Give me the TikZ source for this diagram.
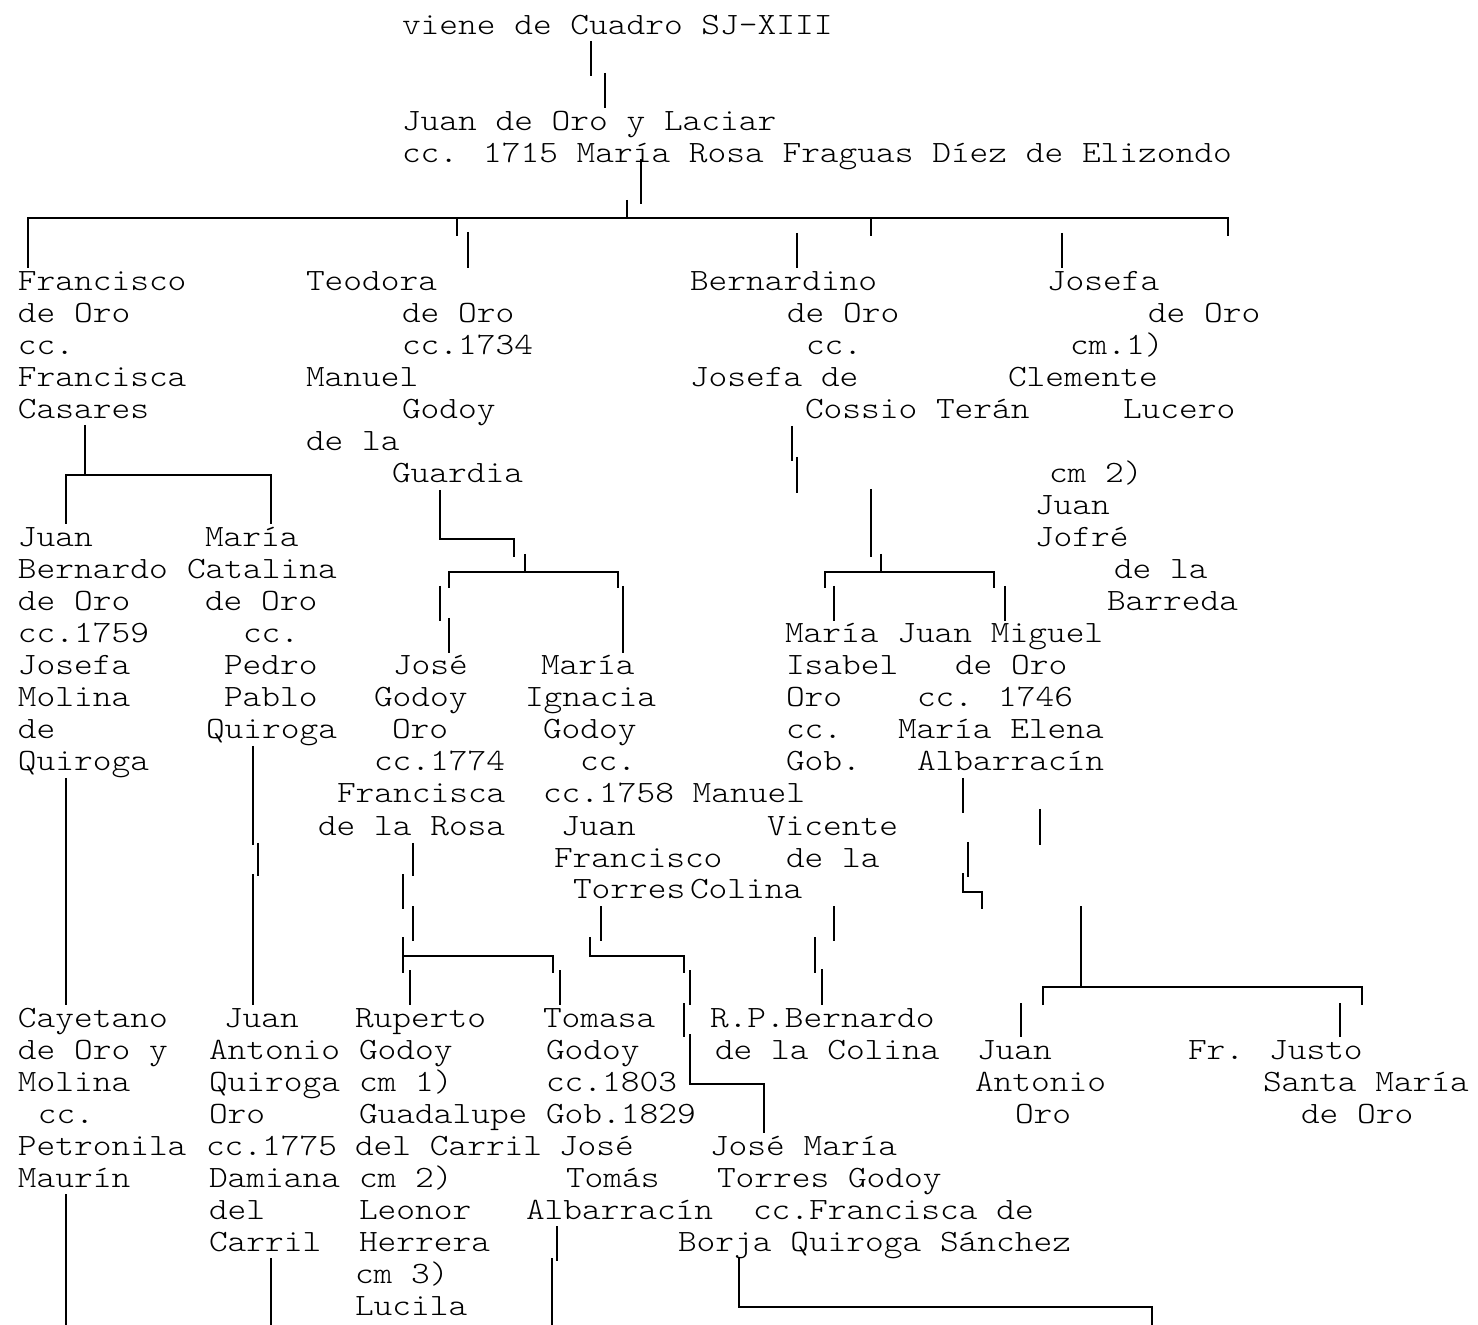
\documentclass[tikz,border=0pt]{standalone}
\usepackage{fontspec}
\newfontfamily\monof{Latin Modern Mono Light}[FakeStretch=1.15]
\tikzset{
  tx/.style={anchor=base west, inner sep=0pt, outer sep=0pt, font=\monof\fontsize{15.5pt}{16pt}\selectfont},
  ln/.style={line width=1.3pt, line cap=butt, line join=miter}
}
\newcommand\tl[4]{\node[tx] (#1) at ({#2-2},{35+32*#3}) {#4};}
\begin{document}
\begin{tikzpicture}[x=0.5pt,y=-0.5pt]
\fill[white] (0,0) rectangle (1478,1325);
\useasboundingbox (0,0) rectangle (1478,1325);
% ---------- texts ----------
\tl{a0}{404}{0}{viene de Cuadro SJ-XIII}
\tl{a1}{404}{3}{Juan de Oro y Laciar}
\tl{a2}{404}{4}{cc. 1715 María Rosa Fraguas Díez de Elizondo}
% Francisco
\tl{f1}{20}{8}{Francisco}
\tl{f2}{20}{9}{de Oro}
\tl{f3}{20}{10}{cc.}
\tl{f4}{20}{11}{Francisca}
\tl{f5}{20}{12}{Casares}
% Teodora
\tl{t1}{308}{8}{Teodora}
\tl{t2}{404}{9}{de Oro}
\tl{t3}{404}{10}{cc.1734}
\tl{t4}{308}{11}{Manuel}
\tl{t5}{404}{12}{Godoy}
\tl{t6}{308}{13}{de la}
\tl{t7}{394}{14}{Guardia}
% Bernardino
\tl{b1}{692}{8}{Bernardino}
\tl{b2}{789}{9}{de Oro}
\tl{b3}{808}{10}{cc.}
\tl{b4}{692}{11}{Josefa de}
\tl{b5}{807}{12}{Cossio Terán}
% Josefa
\tl{j1}{1049}{8}{Josefa}
\tl{j2}{1150}{9}{de Oro}
\tl{j3}{1072}{10}{cm.1)}
\tl{j4}{1010}{11}{Clemente}
\tl{j5}{1125}{12}{Lucero}
\tl{j6}{1051}{14}{cm 2)}
\tl{j7}{1037}{15}{Juan}
\tl{j8}{1037}{16}{Jofré}
\tl{j9}{1116}{17}{de la}
\tl{j10}{1109}{18}{Barreda}
% Juan Bernardo
\tl{jb1}{20}{16}{Juan}
\tl{jb2}{20}{17}{Bernardo}
\tl{jb3}{20}{18}{de Oro}
\tl{jb4}{20}{19}{cc.1759}
\tl{jb5}{20}{20}{Josefa}
\tl{jb6}{20}{21}{Molina}
\tl{jb7}{20}{22}{de}
\tl{jb8}{20}{23}{Quiroga}
% Maria Catalina
\tl{mc1}{207}{16}{María}
\tl{mc2}{189}{17}{Catalina}
\tl{mc3}{207}{18}{de Oro}
\tl{mc4}{245}{19}{cc.}
\tl{mc5}{226}{20}{Pedro}
\tl{mc6}{226}{21}{Pablo}
\tl{mc7}{208}{22}{Quiroga}
% Jose Godoy
\tl{jg1}{395}{20}{José}
\tl{jg2}{376}{21}{Godoy}
\tl{jg3}{394}{22}{Oro}
\tl{jg4}{376}{23}{cc.1774}
\tl{jg5}{339}{24}{Francisca}
\tl{jg6}{320}{25}{de la Rosa}
% Maria Ignacia
\tl{mi1}{543}{20}{María}
\tl{mi2}{527}{21}{Ignacia}
\tl{mi3}{545}{22}{Godoy}
\tl{mi4}{582}{23}{cc.}
\tl{mi5}{545}{24}{cc.1758 Manuel}
\tl{mi6}{563}{25}{Juan}
\tl{mi7}{556}{26}{Francisco}
\tl{mi8}{575}{27}{Torres}
\tl{mv1}{769}{25}{Vicente}
\tl{mv2}{788}{26}{de la}
\tl{mv3}{692}{27}{Colina}
% Maria Isabel / Juan Miguel
\tl{ms1}{787}{19}{María Juan Miguel}
\tl{ms2}{788}{20}{Isabel}
\tl{ms3}{788}{21}{Oro}
\tl{ms4}{788}{22}{cc.}
\tl{ms5}{788}{23}{Gob.}
\tl{jm1}{957}{20}{de Oro}
\tl{jm2}{919}{21}{cc. 1746}
\tl{jm3}{900}{22}{María Elena}
\tl{jm4}{919}{23}{Albarracín}
% Cayetano
\tl{c1}{20}{31}{Cayetano}
\tl{c2}{20}{32}{de Oro y}
\tl{c3}{20}{33}{Molina}
\tl{c4}{40}{34}{cc.}
\tl{c5}{20}{35}{Petronila}
\tl{c6}{20}{36}{Maurín}
% Juan Antonio Quiroga
\tl{q1}{226}{31}{Juan}
\tl{q2}{211}{32}{Antonio}
\tl{q3}{211}{33}{Quiroga}
\tl{q4}{211}{34}{Oro}
\tl{q5}{208}{35}{cc.1775}
\tl{q6}{211}{36}{Damiana}
\tl{q7}{211}{37}{del}
\tl{q8}{211}{38}{Carril}
% Ruperto
\tl{r1}{357}{31}{Ruperto}
\tl{r2}{361}{32}{Godoy}
\tl{r3}{361}{33}{cm 1)}
\tl{r4}{361}{34}{Guadalupe}
\tl{r5}{357}{35}{del Carril}
\tl{r6}{361}{36}{cm 2)}
\tl{r7}{361}{37}{Leonor}
\tl{r8}{361}{38}{Herrera}
\tl{r9}{357}{39}{cm 3)}
\tl{r10}{357}{40}{Lucila}
% Tomasa
\tl{tg1}{545}{31}{Tomasa}
\tl{tg2}{548}{32}{Godoy}
\tl{tg3}{548}{33}{cc.1803}
\tl{tg4}{548}{34}{Gob.1829}
\tl{tg5}{561}{35}{José}
\tl{tg6}{568}{36}{Tomás}
\tl{tg7}{528}{37}{Albarracín}
% R.P. Bernardo
\tl{rp1}{712}{31}{R.P.Bernardo}
\tl{rp2}{717}{32}{de la Colina}
% Jose Maria
\tl{jt1}{712}{35}{José María}
\tl{jt2}{719}{36}{Torres Godoy}
\tl{jt3}{755}{37}{cc.Francisca de}
\tl{jt4}{680}{38}{Borja Quiroga Sánchez}
% Juan Antonio Oro
\tl{ja1}{979}{32}{Juan}
\tl{ja2}{977}{33}{Antonio}
\tl{ja3}{1017}{34}{Oro}
% Fr. Justo
\tl{fj1}{1190}{32}{Fr. Justo}
\tl{fj2}{1265}{33}{Santa María}
\tl{fj3}{1303}{34}{de Oro}
% ---------- lines ----------
% top
\draw[ln] (591,41) -- (591,76);
\draw[ln] (605,73) -- (605,108);
\draw[ln] (641,159) -- (641,204);
\draw[ln] (627,200) -- (627,218);
\draw[ln] (28,268) -- (28,218) -- (1228,218) -- (1228,236);
\draw[ln] (457,218) -- (457,236);
\draw[ln] (468,232) -- (468,268);
\draw[ln] (871,218) -- (871,236);
\draw[ln] (797,233) -- (797,268);
\draw[ln] (1062,233) -- (1062,268);
% Francisco branch
\draw[ln] (85,425) -- (85,475);
\draw[ln] (66,524) -- (66,475) -- (271,475) -- (271,524);
% Teodora branch
\draw[ln] (440,490) -- (440,539) -- (514,539) -- (514,557);
\draw[ln] (525,554) -- (525,572);
\draw[ln] (449,588) -- (449,572) -- (618,572) -- (618,588);
\draw[ln] (440,586) -- (440,621);
\draw[ln] (449,618) -- (449,653);
\draw[ln] (623,586) -- (623,653);
% Bernardino branch
\draw[ln] (792,426) -- (792,461);
\draw[ln] (797,457) -- (797,493);
\draw[ln] (871,489) -- (871,557);
\draw[ln] (881,554) -- (881,572);
\draw[ln] (825,588) -- (825,572) -- (994,572) -- (994,588);
\draw[ln] (834,586) -- (834,621);
\draw[ln] (1005,586) -- (1005,621);
% Juan Bernardo -> Cayetano
\draw[ln] (66,778) -- (66,1005);
% Maria Catalina -> Juan Antonio
\draw[ln] (253,746) -- (253,845);
\draw[ln] (258,843) -- (258,876);
\draw[ln] (253,874) -- (253,1005);
% Jose Godoy -> children
\draw[ln] (413,843) -- (413,876);
\draw[ln] (403,874) -- (403,909);
\draw[ln] (413,906) -- (413,941);
\draw[ln] (403,937) -- (403,973);
\draw[ln] (403,956) -- (553,956) -- (553,973);
\draw[ln] (560,970) -- (560,1005);
\draw[ln] (410,970) -- (410,1005);
% Torres -> Jose Maria
\draw[ln] (601,906) -- (601,941);
\draw[ln] (590,937) -- (590,956) -- (684,956) -- (684,973);
\draw[ln] (690,970) -- (690,1005);
\draw[ln] (684,1003) -- (684,1037);
\draw[ln] (690,1034) -- (690,1084) -- (764,1084) -- (764,1133);
% Colina -> R.P.
\draw[ln] (834,906) -- (834,941);
\draw[ln] (815,937) -- (815,973);
\draw[ln] (822,969) -- (822,1005);
% Juan Miguel -> children
\draw[ln] (963,778) -- (963,813);
\draw[ln] (1040,809) -- (1040,845);
\draw[ln] (968,842) -- (968,877);
\draw[ln] (963,873) -- (963,892) -- (982,892) -- (982,909);
\draw[ln] (1081,906) -- (1081,987);
\draw[ln] (1043,1005) -- (1043,987) -- (1362,987) -- (1362,1005);
\draw[ln] (1021,1003) -- (1021,1037);
\draw[ln] (1340,1003) -- (1340,1037);
% bottom
\draw[ln] (66,1194) -- (66,1325);
\draw[ln] (271,1258) -- (271,1325);
\draw[ln] (557,1226) -- (557,1261);
\draw[ln] (552,1258) -- (552,1325);
\draw[ln] (739,1258) -- (739,1307) -- (1152,1307) -- (1152,1325);
\end{tikzpicture}
\end{document}
